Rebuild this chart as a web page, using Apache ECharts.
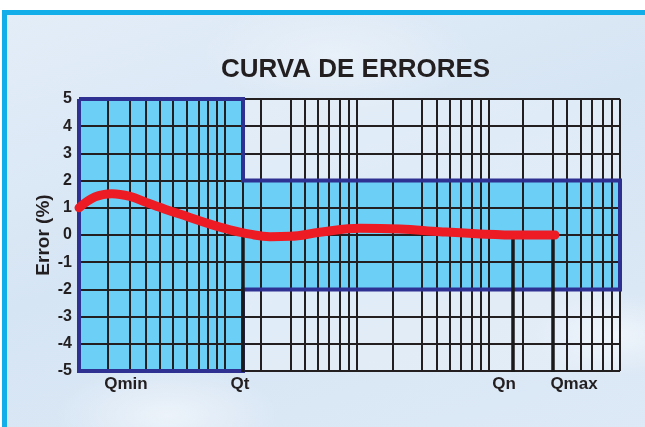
<!DOCTYPE html>
<html>
<head>
<meta charset="utf-8">
<script src="https://cdn.jsdelivr.net/npm/echarts@6/dist/echarts.min.js"></script>
<style>
  html, body { margin: 0; padding: 0; }
  body {
    width: 645px; height: 427px; overflow: hidden; position: relative;
    background: #fff;
  }
  .panel {
    position: absolute; left: 2px; top: 10px; right: -10px; bottom: -10px;
    border-top: 5px solid #12aee9; border-left: 5px solid #12aee9;
    background:
      radial-gradient(ellipse 120px 60px at 610px 320px, rgba(255,255,255,0.55), rgba(255,255,255,0) 70%),
      radial-gradient(ellipse 160px 70px at 160px 400px, rgba(255,255,255,0.5), rgba(255,255,255,0) 70%),
      radial-gradient(ellipse 200px 80px at 330px 40px, rgba(255,255,255,0.35), rgba(255,255,255,0) 70%),
      linear-gradient(160deg, #e3edf8 0%, #d6e5f4 45%, #dde9f6 100%);
  }
  #chart { position: absolute; left: 0; top: 0; width: 645px; height: 427px; }
</style>
</head>
<body>
<div class="panel"></div>
<div id="chart"></div>
<script>
// x is position along the (log-like) flow paper, 0 = left edge of the grid
const xMax = 541
const gridX = [0, 29, 51, 67, 81, 94, 108, 120, 129, 138, 146, 164, 182, 212, 226, 239, 250, 261, 270, 278,
  314, 343, 358, 371, 382, 393, 402, 410, 444, 474, 488, 502, 513, 524, 533, 541]

// tolerance band: Qmin..Qt = ±5 %, Qt..end = ±2 %
const bandEdges = [0, 164, 541]
const bandLimits = [5, 2]

// Qt, Qn, Qmax marker lines
const markerX = [164, 434, 474]

// axis labels
const labelX = [47, 161, 425, 495]
const labelNames = ['Qmin', 'Qt', 'Qn', 'Qmax']

// error curve
const curveX = [0, 16, 33, 51, 67, 86, 108, 131, 151, 171, 191, 211, 241, 281, 321, 361, 401, 441, 476]
const curveY = [1.0, 1.4, 1.52, 1.42, 1.2, 0.95, 0.68, 0.4, 0.19, 0.03, -0.06, -0.05, 0.1, 0.25, 0.22, 0.12, 0.04, 0.0, 0.0]

const outline = [
  [bandEdges[0], bandLimits[0]], [bandEdges[1], bandLimits[0]],
  [bandEdges[1], bandLimits[1]], [bandEdges[2], bandLimits[1]],
  [bandEdges[2], -bandLimits[1]], [bandEdges[1], -bandLimits[1]],
  [bandEdges[1], -bandLimits[0]], [bandEdges[0], -bandLimits[0]],
  [bandEdges[0], bandLimits[0]]
]

const labelMap = {}
labelX.forEach((v, i) => { labelMap[v] = labelNames[i] })

const chart = echarts.init(document.getElementById('chart'))

const option = {
  backgroundColor: 'transparent',
  animation: false,
  title: {
    text: 'CURVA DE ERRORES',
    left: 216,
    top: 52,
    textStyle: { fontFamily: 'Liberation Sans', fontWeight: 'bold', fontSize: 26, color: '#231f20' }
  },
  grid: {
    left: 79, top: 99, width: 541, height: 272,
    show: true, backgroundColor: 'rgba(240,247,253,0.35)', borderWidth: 0
  },
  xAxis: {
    type: 'value', min: 0, max: xMax, z: 5,
    position: 'bottom',
    axisLine: { show: false, onZero: false },
    splitLine: { show: false },
    axisTick: {
      show: true, inside: true, length: 272,
      customValues: gridX,
      lineStyle: { color: '#231f20', width: 2 }
    },
    axisLabel: {
      customValues: labelX,
      margin: 5,
      color: '#231f20',
      fontFamily: 'Liberation Sans', fontWeight: 'bold', fontSize: 17,
      formatter: v => labelMap[v] || ''
    }
  },
  yAxis: {
    type: 'value', min: -5, max: 5, interval: 1, z: 5,
    name: 'Error (%)',
    nameLocation: 'middle',
    nameGap: 26,
    nameMoveOverlap: false,
    nameTextStyle: { fontFamily: 'Liberation Sans', fontWeight: 'bold', fontSize: 19, color: '#231f20' },
    axisLine: { show: false },
    axisTick: { show: false },
    splitLine: { show: true, lineStyle: { color: '#231f20', width: 2 } },
    axisLabel: { margin: 7, color: '#231f20', fontFamily: 'Liberation Sans', fontWeight: 'bold', fontSize: 16 }
  },
  series: [
    {
      name: 'band',
      type: 'custom',
      z: 1,
      silent: true,
      data: [[0, 0]],
      renderItem: (params, api) => ({
        type: 'polygon',
        shape: { points: outline.map(p => api.coord(p)) },
        style: { fill: '#6bcff6' }
      })
    },
    {
      name: 'bandOutline',
      type: 'line',
      z: 6,
      silent: true,
      symbol: 'none',
      data: outline,
      lineStyle: { color: '#2e3192', width: 4, join: 'miter' }
    },
    {
      name: 'markers',
      type: 'custom',
      z: 7,
      silent: true,
      data: markerX.map(x => [x, 0]),
      renderItem: (params, api) => {
        const top = api.coord([api.value(0), api.value(1)])
        const bottom = api.coord([api.value(0), -5])
        return {
          type: 'line',
          shape: { x1: top[0], y1: top[1], x2: bottom[0], y2: bottom[1] + 1 },
          style: { stroke: '#1a1a1a', lineWidth: 3.5 }
        }
      }
    },
    {
      name: 'Error',
      type: 'line',
      z: 8,
      smooth: 0.4,
      symbol: 'none',
      data: curveX.map((x, i) => [x, curveY[i]]),
      lineStyle: { color: '#ed1c24', width: 9, cap: 'round', join: 'round' }
    }
  ]
}

chart.setOption(option)
</script>
</body>
</html>
